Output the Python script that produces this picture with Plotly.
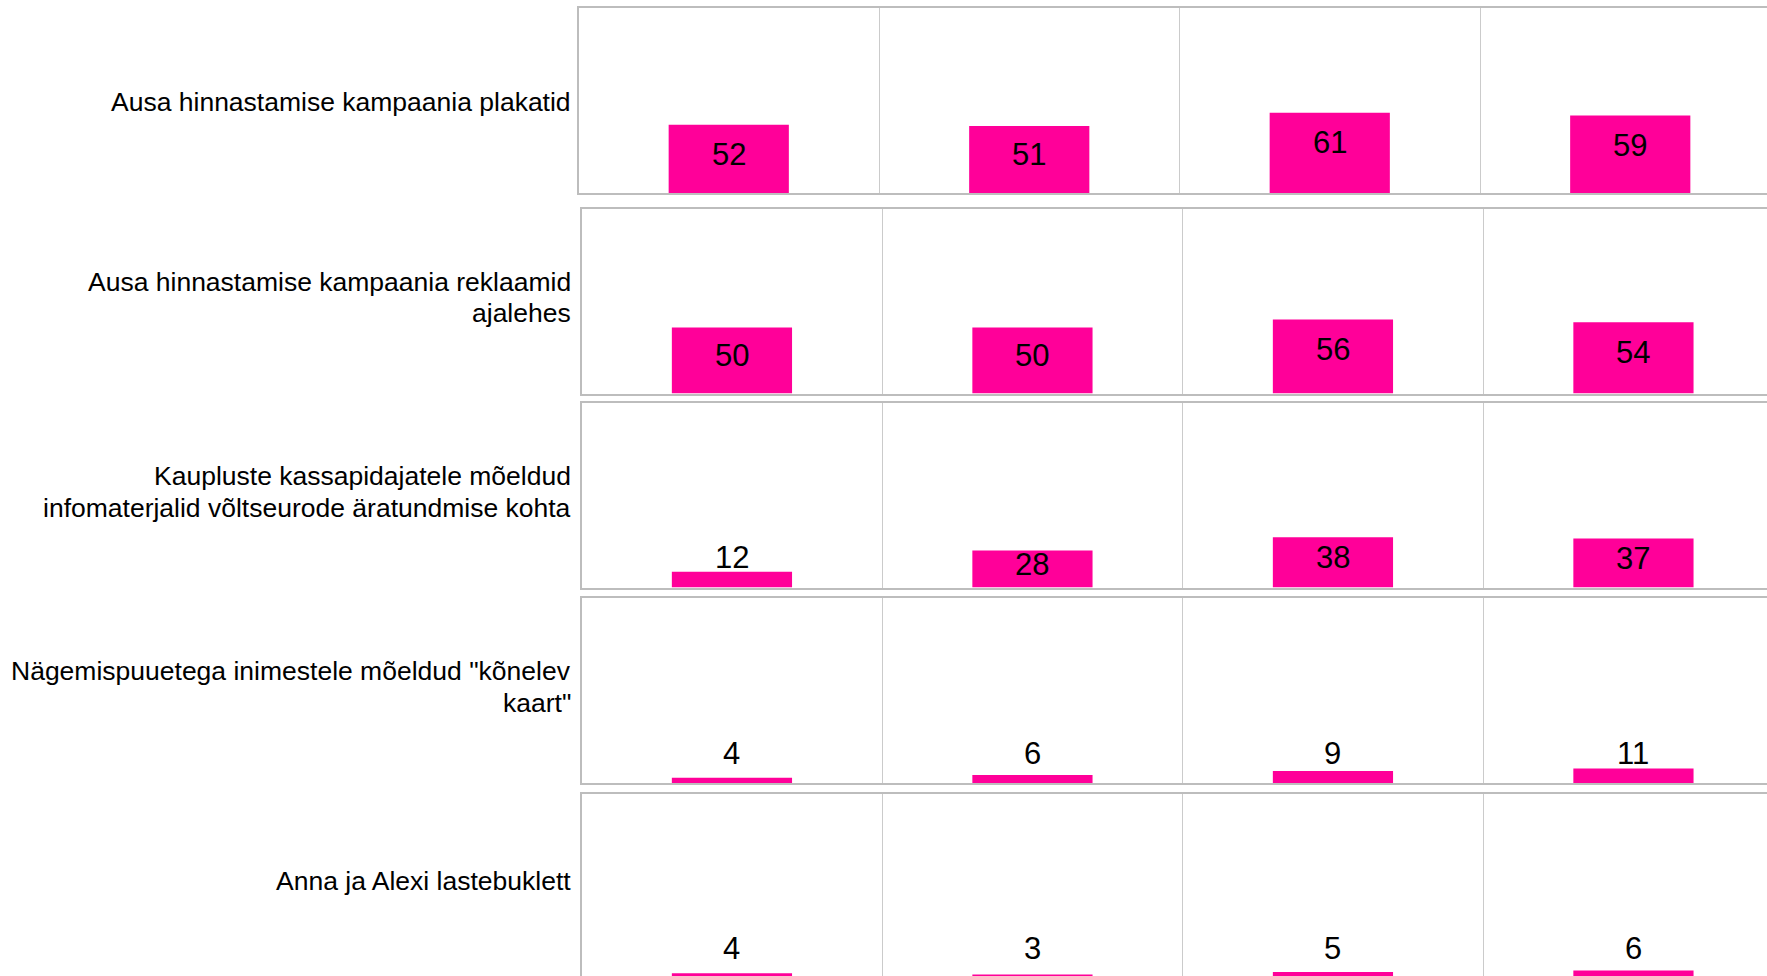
import plotly.graph_objects as go

# Information materials (row labels, "\n" marks a line break)
materials = [
    "Ausa hinnastamise kampaania plakatid",
    "Ausa hinnastamise kampaania reklaamid\najalehes",
    "Kaupluste kassapidajatele mõeldud\ninfomaterjalid võltseurode äratundmise kohta",
    "Nägemispuuetega inimestele mõeldud \"kõnelev\nkaart\"",
    "Anna ja Alexi lastebuklett",
]

# Share of respondents per column, one list per material
plakatid = [52, 51, 61, 59]
reklaamid_ajalehes = [50, 50, 56, 54]
kassapidajate_infomaterjalid = [12, 28, 38, 37]
konelev_kaart = [4, 6, 9, 11]
lastebuklett = [4, 3, 5, 6]

rows = [plakatid, reklaamid_ajalehes, kassapidajate_infomaterjalid,
        konelev_kaart, lastebuklett]

# ---- layout constants (pixels) ----
W, H = 1767, 976
ROW_TOPS = [8.4, 208.6, 402.5, 598.0, 793.5]
ROW_LEFTS = [578.5, 581.7, 581.7, 581.7, 581.7]
LABEL_SHIFT = [1.5, -3.5, -3.0, -3.5, -4.8]   # vertical nudge of row labels
PANEL_H = 185.0
COL_W = 300.5
Y_MAX = 140.0
PPU = PANEL_H / Y_MAX          # pixels per percentage point
LABEL_RIGHT = 573.0
LINE_PX = 31.5                 # line spacing of row labels
INSIDE_MIN = 20                # values from here on carry the label inside the bar

PINK = "#FF0099"
BORDER = "#bdbdbd"
GRID = "#cbcbcb"
FONT = "Liberation Sans, Arial, Helvetica, sans-serif"


def px_x(p):
    return p / W


def px_y(p):
    return 1 - p / H


fig = go.Figure()
layout = dict(
    width=W, height=H,
    margin=dict(l=0, r=0, t=0, b=0),
    paper_bgcolor="white", plot_bgcolor="white",
    showlegend=False,
    font=dict(family=FONT, color="black"),
)
annotations = []

for r, values in enumerate(rows):
    n = r + 1
    sfx = "" if n == 1 else str(n)
    top = ROW_TOPS[r]
    bottom = top + PANEL_H
    vis_bottom = min(bottom, H)
    y_low = (bottom - vis_bottom) / PPU
    left = ROW_LEFTS[r]
    x_high = -0.5 + (W - left) / COL_W

    fig.add_trace(go.Bar(
        x=list(range(len(values))), y=values,
        width=0.4, marker=dict(color=PINK, line=dict(width=0)),
        xaxis="x" + sfx, yaxis="y" + sfx, hoverinfo="skip",
    ))

    layout["xaxis" + sfx] = dict(
        domain=[px_x(left), 1.0], anchor="y" + sfx,
        range=[-0.5, x_high], showticklabels=False, ticks="",
        tick0=0.5, dtick=1, showgrid=True, gridcolor=GRID, gridwidth=1,
        zeroline=False, showline=True, mirror=True,
        linecolor=BORDER, linewidth=1.5, fixedrange=True,
    )
    layout["yaxis" + sfx] = dict(
        domain=[px_y(vis_bottom), px_y(top)], anchor="x" + sfx,
        range=[y_low, Y_MAX], showticklabels=False, ticks="",
        showgrid=False, zeroline=False, showline=True, mirror=False,
        linecolor=BORDER, linewidth=1.5, fixedrange=True,
    )

    # value labels: near the top inside tall bars, at a fixed height otherwise
    for i, v in enumerate(values):
        h = v * PPU
        if v >= INSIDE_MIN:
            centre = max(h - 30, h / 2 + 5)
        else:
            centre = 30
        annotations.append(dict(
            x=i, y=centre / PPU, xref="x" + sfx, yref="y" + sfx,
            text=str(v), showarrow=False, xanchor="center", yanchor="middle",
            font=dict(family=FONT, size=31, color="black"),
        ))

    # row label, right aligned next to the panel
    lines = materials[r].split("\n")
    mid = top + PANEL_H / 2 + LABEL_SHIFT[r]
    for k, line in enumerate(lines):
        yc = mid + (k - (len(lines) - 1) / 2) * LINE_PX
        annotations.append(dict(
            x=px_x(LABEL_RIGHT), y=px_y(yc), xref="paper", yref="paper",
            text=line, showarrow=False, xanchor="right", yanchor="middle",
            align="right", font=dict(family=FONT, size=26.5, color="black"),
        ))

layout["annotations"] = annotations
fig.update_layout(**layout)

fig.write_html("out.html", config={"displayModeBar": False})
